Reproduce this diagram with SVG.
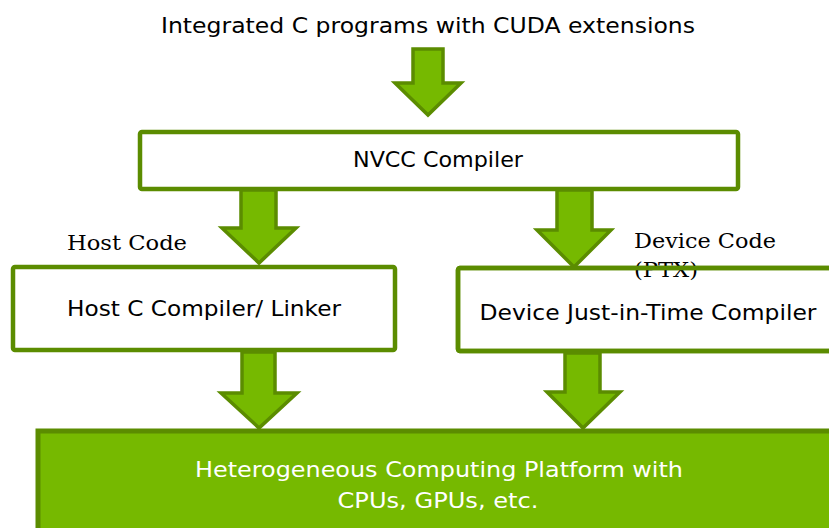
<svg xmlns="http://www.w3.org/2000/svg" width="829" height="528" viewBox="0 0 829 528">
<style>
.box{fill:#ffffff;stroke:#5b8c00;stroke-width:4.5}
.edge{fill:none;stroke:#5b8c00;stroke-width:4.5}
.arrow{fill:#76b900;stroke:#5b8c00;stroke-width:3.5;stroke-linejoin:miter}
.t{font-family:"DejaVu Sans","Liberation Sans",sans-serif;fill:#000;text-anchor:middle}
.s{font-family:"DejaVu Serif","Liberation Serif",serif;fill:#000;font-size:20px;font-weight:normal}
.w{font-family:"DejaVu Sans","Liberation Sans",sans-serif;fill:#ffffff;text-anchor:middle;font-size:22px}
</style>
<rect width="829" height="528" fill="#ffffff"/>
<g id="source">
<text class="t" x="428" y="33" font-size="22" textLength="534" lengthAdjust="spacingAndGlyphs">Integrated C programs with CUDA extensions</text>
</g>
<g id="nvcc">
<rect class="box" x="140" y="132" width="598" height="57" rx="2"/>
<text class="t" x="438" y="167" font-size="22" textLength="170" lengthAdjust="spacingAndGlyphs">NVCC Compiler</text>
</g>
<g id="host">
<rect class="box" x="13" y="267" width="382" height="83" rx="2"/>
<text class="t" x="204" y="316" font-size="22" textLength="274" lengthAdjust="spacingAndGlyphs">Host C Compiler/ Linker</text>
</g>
<g id="device">
<rect class="box" x="458" y="268" width="400" height="83" rx="2"/>
<text class="s" x="634" y="248" textLength="142" lengthAdjust="spacingAndGlyphs">Device Code</text>
<text class="s" x="634" y="277" textLength="64" lengthAdjust="spacingAndGlyphs">(PTX)</text>
<rect class="edge" x="458" y="268" width="400" height="83" rx="2"/>
<text class="t" x="648" y="320" font-size="22" textLength="337" lengthAdjust="spacingAndGlyphs">Device Just-in-Time Compiler</text>
</g>
<g id="hostcode-label">
<text class="s" x="67" y="250" textLength="120" lengthAdjust="spacingAndGlyphs">Host Code</text>
</g>
<g id="platform">
<rect x="38" y="431" width="820" height="120" fill="#76b900" stroke="#5b8c00" stroke-width="5"/>
<text class="w" x="439" y="477" textLength="488" lengthAdjust="spacingAndGlyphs">Heterogeneous Computing Platform with</text>
<text class="w" x="438" y="508" textLength="201" lengthAdjust="spacingAndGlyphs">CPUs, GPUs, etc.</text>
</g>
<g id="connectors">
<path class="arrow" d="M413,49 H443 V83 H461 L428,115 L395,83 H413 Z"/>
<path class="arrow" d="M241,190 H276 V228 H296 L259,263 L222,228 H241 Z"/>
<path class="arrow" d="M557,190 H592 V230 H611 L574,267 L537,230 H557 Z"/>
<path class="arrow" d="M242,352 H275 V393 H297 L259,428 L221,393 H242 Z"/>
<path class="arrow" d="M565,353 H600 V392 H620 L583,428 L547,392 H565 Z"/>
</g>
</svg>
